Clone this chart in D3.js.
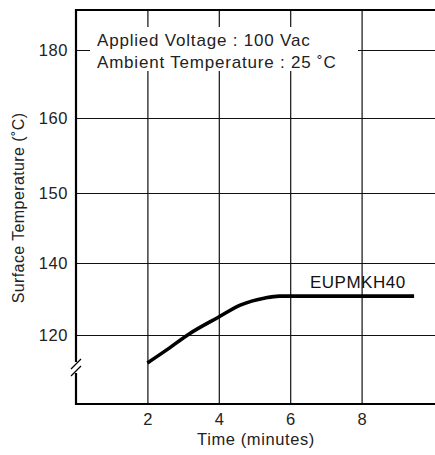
<!DOCTYPE html>
<html><head><meta charset="utf-8">
<script src="https://cdn.jsdelivr.net/npm/d3@7"></script>
<style>
body{margin:0;background:#fff;}
svg{display:block;font-family:"Liberation Sans",Arial,sans-serif;}
</style></head>
<body>
<svg id="c" width="435" height="455"></svg>
<script>
// ---- data ----
const timeValues = [2, 2.5, 3.17, 4, 4.6, 5.3, 5.7, 6, 9.47];
const tempValues = [111.9, 115.4, 120.3, 125.0, 128.3, 130.3, 130.8, 130.8, 130.8];
const xTickValues = [2, 4, 6, 8];
const yTickValues = [120, 140, 150, 160, 180];
const seriesName = "EUPMKH40";
const noteLines = ["Applied Voltage : 100 Vac", "Ambient Temperature : 25 \u02DAC"];
const xTitle = "Time (minutes)";
const yTitle = "Surface Temperature (\u02DAC)";

(function () {
// ---- scales ----
const svg = d3.select("#c");
const x = d3.scaleLinear().domain([0, 10]).range([76, 433]);
// broken, non-uniform temperature axis (as in the reference)
const y = d3.scaleLinear()
  .domain([100, 120, 140, 150, 160, 180, 190])
  .range([404, 335, 263, 193, 118, 50, 10]);

const pl = x(0), pr = 435, pt = y(190), pb = y(100);

// grid lines via axes
const gy = svg.append("g").attr("transform", `translate(${pl},0)`)
  .call(d3.axisLeft(y).tickValues(yTickValues).tickSize(-(pr - pl)).tickPadding(8).tickFormat(d3.format("d")));
gy.select(".domain").remove();
gy.selectAll(".tick line").attr("stroke", "#111").attr("stroke-width", 1.2);
gy.selectAll(".tick text").attr("font-size", 16.5).attr("fill", "#222")
  .attr("font-family", "Liberation Sans, Arial, sans-serif").attr("letter-spacing", 0.6);

const gx = svg.append("g").attr("transform", `translate(0,${pb})`)
  .call(d3.axisBottom(x).tickValues(xTickValues).tickSize(-(pb - pt)).tickPadding(9).tickFormat(d3.format("d")));
gx.select(".domain").remove();
gx.selectAll(".tick line").attr("stroke", "#111").attr("stroke-width", 1.2);
gx.selectAll(".tick text").attr("font-size", 16.5).attr("fill", "#222")
  .attr("font-family", "Liberation Sans, Arial, sans-serif");

// frame
svg.append("line").attr("x1", pl).attr("x2", pr).attr("y1", pt).attr("y2", pt)
  .attr("stroke", "#000").attr("stroke-width", 2);
svg.append("line").attr("x1", pl).attr("x2", pr).attr("y1", pb).attr("y2", pb)
  .attr("stroke", "#000").attr("stroke-width", 2);
// left axis with break
svg.append("line").attr("x1", pl).attr("x2", pl).attr("y1", pt - 1).attr("y2", 362)
  .attr("stroke", "#000").attr("stroke-width", 2.2);
svg.append("line").attr("x1", pl).attr("x2", pl).attr("y1", 373).attr("y2", pb + 1)
  .attr("stroke", "#000").attr("stroke-width", 2.2);
[0, 7].forEach(o => {
  svg.append("line").attr("x1", pl - 5).attr("y1", 369 + o).attr("x2", pl + 5).attr("y2", 359 + o)
    .attr("stroke", "#000").attr("stroke-width", 1.3);
});

// annotation box (white background hides grid)
svg.append("rect").attr("x", 90).attr("y", 27).attr("width", 268).attr("height", 44).attr("fill", "#fff");
svg.append("text").attr("x", 97).attr("y", 46).attr("font-size", 17).attr("fill", "#222")
  .attr("letter-spacing", 0.8).text(noteLines[0]);
svg.append("text").attr("x", 97).attr("y", 68).attr("font-size", 17).attr("fill", "#222")
  .attr("letter-spacing", 0.8).text(noteLines[1]);

// series line
const pts = timeValues.map((t, i) => [t, tempValues[i]]);
svg.append("path").datum(pts)
  .attr("d", d3.line().x(d => x(d[0])).y(d => y(d[1])).curve(d3.curveMonotoneX))
  .attr("fill", "none").attr("stroke", "#000").attr("stroke-width", 3.6);

svg.append("text").attr("x", 310).attr("y", 288).attr("font-size", 17).attr("fill", "#111")
  .attr("letter-spacing", 0.5).text(seriesName);

// axis titles
svg.append("text").attr("x", 256).attr("y", 445).attr("text-anchor", "middle")
  .attr("font-size", 16.5).attr("fill", "#222").attr("letter-spacing", 0.6).text(xTitle);
svg.append("text").attr("transform", "translate(24,208) rotate(-90)").attr("text-anchor", "middle")
  .attr("font-size", 16).attr("fill", "#222").attr("letter-spacing", 0.4).text(yTitle);
})();
</script>
</body></html>
